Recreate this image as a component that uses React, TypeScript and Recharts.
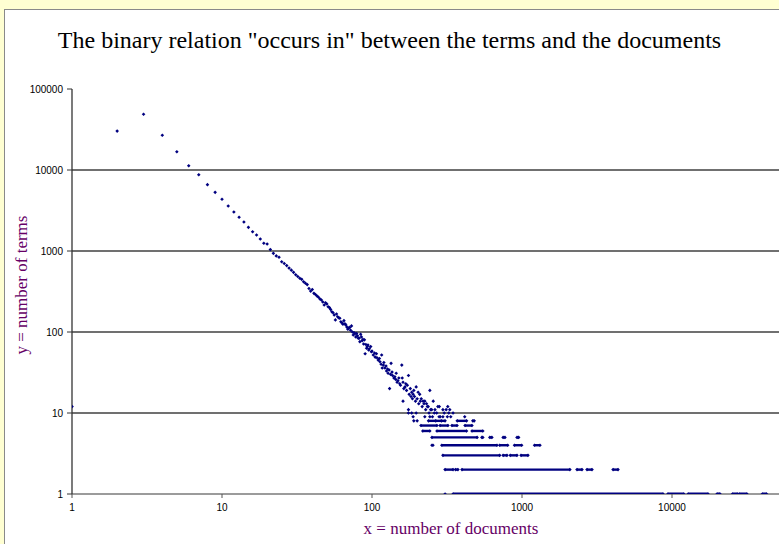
import React from 'react';
import { ScatterChart, Scatter, XAxis, YAxis, ReferenceLine } from 'recharts';

const xTicks = [1, 10, 100, 1000, 10000];
const yTicks = [1, 10, 100, 1000, 10000, 100000];
const gridLevels = [10, 100, 1000, 10000];

// main curve (x = number of documents, y = number of terms)
const curveDocs = [
  1, 2, 3, 4, 5, 6, 7, 8, 9, 10, 11, 12, 13, 14, 15, 16, 17, 18, 19, 20,
  21, 22, 23, 24, 25, 26, 27, 28, 29, 30, 31, 32, 33, 34, 35, 36, 37, 38, 39, 40,
  41, 42, 43, 44, 45, 46, 47, 48, 49, 50, 51, 52, 53, 54, 55, 56, 57, 58, 59, 60,
  61, 62, 63, 64, 65, 66, 67, 68, 69, 70, 71, 72, 73, 74, 75, 76, 77, 78, 79, 80,
  81, 82, 83, 84, 85, 86, 87, 88, 89, 90, 91, 92, 93, 94, 95, 96, 98, 99, 100, 102,
  104, 105, 107, 108, 110, 112, 113, 115, 116, 117, 119, 120, 122, 124, 125, 127, 128, 130, 131, 133,
  134, 136, 137, 140, 142, 144, 145, 147, 149, 151, 153, 155, 158, 159, 161, 163, 166, 168, 170, 172,
  175, 177, 180, 182, 184, 186, 188, 190, 192, 195, 197, 200, 203, 205, 208, 210, 213, 216, 219, 222,
  225, 228, 231, 234, 237, 243, 246, 250, 256, 263, 275, 281, 297, 312, 320, 330, 161, 175,
];
const curveTerms = [
  12, 30200, 48700, 26800, 16800, 11300, 8750, 6590, 5300, 4350, 3590, 3030, 2606, 2280, 1960, 1730, 1577, 1406, 1245, 1220,
  1040, 936, 870, 836, 738, 700, 660, 615, 580, 545, 510, 485, 460, 447, 418, 400, 385, 345, 320, 335,
  300, 290, 278, 268, 255, 248, 235, 215, 230, 222, 205, 200, 190, 178, 173, 162, 141, 167, 154, 150,
  148, 134, 130, 125, 138, 126, 122, 115, 108, 112, 114, 105, 119, 100, 92, 98, 95, 87, 96, 90,
  84, 84, 76, 94, 87, 78, 81, 71, 80, 54, 70, 63, 66, 69, 60, 62, 66, 57, 58, 52,
  55, 49, 54, 48, 45, 47, 43, 40, 52, 36, 39, 42, 36, 38, 33, 35, 31, 34, 20, 30,
  41, 32, 29, 27, 28, 26, 31, 24, 25, 27, 23, 22, 39, 27, 24, 20, 21, 23, 19, 22,
  29, 17, 20, 16, 18, 15, 17, 19, 16, 14, 21, 15, 18, 13, 17, 14, 15, 12, 14, 13,
  14, 11, 13, 12, 12, 19, 11, 11, 14, 11, 12, 12, 11, 11, 12, 11, 14, 11,
];

// isolated points on the low integer levels
const sparseDocs = [
  175, 184, 197, 240, 260, 270, 303, 325, 347,
  188, 225, 243, 253, 280, 285, 297, 318, 335, 415,
  190, 200, 266, 290,
  251, 255, 307,
];
const sparseTerms = [
  10, 10, 10, 10, 10, 10, 10, 10, 10,
  9, 9, 9, 9, 9, 9, 9, 9, 9, 9,
  8, 8, 8, 8,
  4, 4, 1,
];

// dense runs of points on one level (from x to x)
const runTerms = [
  8, 8, 8,
  7, 7, 7, 7,
  6, 6, 6,
  5, 5, 5, 5, 5,
  4, 4, 4, 4,
  3, 3, 3, 3,
  2, 2, 2, 2, 2, 2,
  1, 1, 1, 1, 1, 1, 1,
];
const runFrom = [
  238, 370, 470,
  212, 284, 341, 417,
  218, 271, 464,
  251, 540, 610, 748, 926,
  292, 710, 891, 1212,
  297, 748, 835, 985,
  307, 360, 398, 2326, 2712, 4046,
  347, 9380, 12800, 19950, 25300, 28000, 40000,
];
const runTo = [
  307, 427, 480,
  271, 321, 369, 464,
  243, 427, 548,
  502, 548, 630, 770, 950,
  681, 803, 995, 1318,
  710, 794, 926, 1096,
  347, 374, 2086, 2512, 2929, 4368,
  8720, 12000, 17400, 20900, 27300, 31600, 42700,
];

const NAVY = '#000080';

const Marker = (props: any) => {
  const { cx, cy } = props;
  if (cx == null || cy == null || isNaN(cx) || isNaN(cy)) return null;
  const r = 1.8;
  return (
    <path
      d={`M${cx} ${cy - r}L${cx + r} ${cy}L${cx} ${cy + r}L${cx - r} ${cy}Z`}
      fill={NAVY}
    />
  );
};

const curveData = curveDocs.map((x, i) => ({ x, y: curveTerms[i] }));
const sparseData = sparseDocs.map((x, i) => ({ x, y: sparseTerms[i] }));

const tickFont = { fontSize: 10, fill: '#000', fontFamily: 'Liberation Sans, Arial, sans-serif' };

export default function App() {
  return (
    <div
      style={{
        position: 'fixed',
        left: 0,
        top: 0,
        width: 779,
        height: 544,
        overflow: 'hidden',
        background: '#FFFFD2',
      }}
    >
      <div
        style={{
          position: 'absolute',
          left: 4,
          top: 9,
          width: 820,
          height: 560,
          background: '#fff',
          borderTop: '1px solid #8a8a8a',
          borderLeft: '1px solid #8a8a8a',
        }}
      />
      <div
        style={{
          position: 'absolute',
          left: 0,
          top: 0,
          width: 779,
          height: 80,
          textAlign: 'center',
          lineHeight: '80px',
          fontFamily: 'Liberation Serif, Times New Roman, serif',
          fontSize: 24,
          color: '#000',
          whiteSpace: 'nowrap',
        }}
      >
        The binary relation "occurs in" between the terms and the documents
      </div>
      <div style={{ position: 'absolute', left: 0, top: 0 }}>
        <ScatterChart
          width={840}
          height={544}
          margin={{ top: 89, right: 18, bottom: 20, left: 0 }}
        >
          <XAxis
            dataKey="x"
            type="number"
            scale="log"
            domain={[1, 100000]}
            ticks={xTicks}
            allowDataOverflow
            height={30}
            tickSize={4}
            tickMargin={6}
            tick={tickFont}
            axisLine={{ stroke: '#7a7a7a', strokeWidth: 1.3 }}
            tickLine={{ stroke: '#555' }}
          />
          <YAxis
            dataKey="y"
            type="number"
            scale="log"
            domain={[1, 100000]}
            ticks={yTicks}
            allowDataOverflow
            width={72}
            tickSize={5}
            tickMargin={4}
            tick={tickFont}
            axisLine={{ stroke: '#333', strokeWidth: 1.3 }}
            tickLine={{ stroke: '#333' }}
          />
          {gridLevels.map((g) => (
            <ReferenceLine key={g} y={g} stroke="#404040" strokeWidth={1.3} />
          ))}
          {runTerms.map((y, i) => (
            <Scatter
              key={`run-${i}`}
              data={[
                { x: runFrom[i], y },
                { x: runTo[i], y },
              ]}
              line={{ stroke: NAVY, strokeWidth: y === 1 ? 3 : 2.4 }}
              lineType="joint"
              shape={Marker}
              isAnimationActive={false}
            />
          ))}
          <Scatter data={sparseData} shape={Marker} isAnimationActive={false} />
          <Scatter data={curveData} shape={Marker} isAnimationActive={false} />
        </ScatterChart>
      </div>
      <div
        style={{
          position: 'absolute',
          left: 351,
          top: 519,
          width: 200,
          textAlign: 'center',
          fontFamily: 'Liberation Serif, Times New Roman, serif',
          fontSize: 17,
          color: '#660066',
          whiteSpace: 'nowrap',
        }}
      >
        x = number of documents
      </div>
      <div
        style={{
          position: 'absolute',
          left: 22 - 100,
          top: 285 - 10,
          width: 200,
          height: 20,
          textAlign: 'center',
          lineHeight: '20px',
          fontFamily: 'Liberation Serif, Times New Roman, serif',
          fontSize: 17,
          color: '#660066',
          whiteSpace: 'nowrap',
          transform: 'rotate(-90deg)',
        }}
      >
        y = number of terms
      </div>
    </div>
  );
}
